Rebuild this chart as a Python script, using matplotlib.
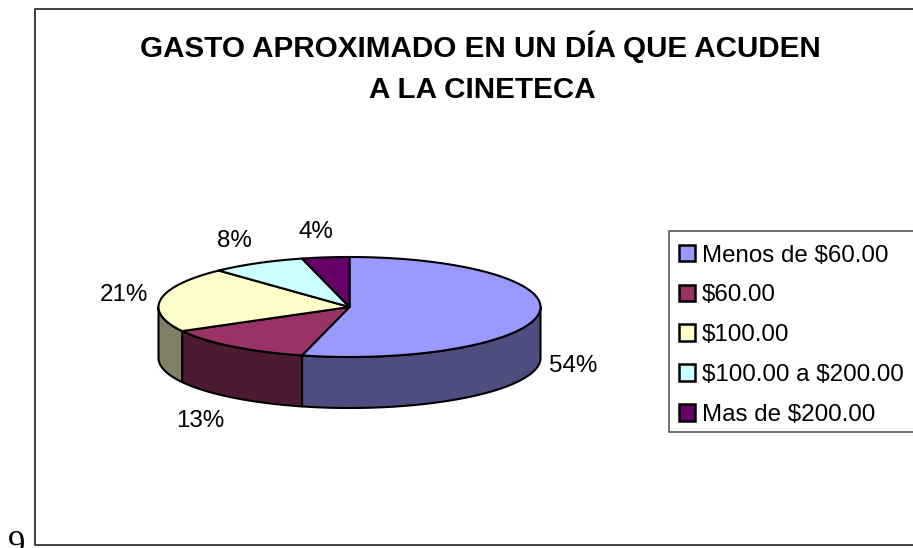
import numpy as np
import matplotlib
matplotlib.use("Agg")
import matplotlib.pyplot as plt
from matplotlib.colors import to_rgb
from matplotlib.patches import Patch

categories = ["Menos de \\$60.00", "\\$60.00", "\\$100.00", "\\$100.00 a \\$200.00", "Mas de \\$200.00"]
values = [54, 13, 21, 8, 4]
colors = ["#9999FF", "#993366", "#FFFFCC", "#CCFFFF", "#660066"]
title_lines = ["GASTO APROXIMADO EN UN DÍA QUE ACUDEN", "A LA CINETECA"]

# layout, in pixels of the 913x548 picture
W, H = 913, 548
CX, CY, RX, RY, DEPTH = 349.5, 307, 191, 50, 51
LABEL_POS = [(573, 366), (200, 421), (124, 295), (234, 241), (316, 232)]

plt.rcParams["font.family"] = ["Liberation Sans", "DejaVu Sans"]


def arc_points(start, end):
    """Points on the pie rim, angles in degrees clockwise from the top."""
    t = np.radians(np.linspace(start, end, max(int(abs(end - start)) * 2, 2)))
    return CX + RX * np.sin(t), CY - RY * np.cos(t)


fig = plt.figure(figsize=(W / 100, H / 100), dpi=100)
ax = fig.add_axes([0, 0, 1, 1])
ax.set_xlim(0, W)
ax.set_ylim(H, 0)
ax.axis("off")

# chart frame, open on the right
ax.plot([W, 35, 35, W], [9, 9, 545, 545], color="#333333", lw=1.3)
# stray page number, cut by the bottom edge in the original too
ax.text(8, 555, "9", family="Liberation Serif", fontsize=25, color="black", clip_on=False)

edges = np.cumsum([0] + values) / sum(values) * 360

# side wall, only the front half of the rim shows
for i, color in enumerate(colors):
    start, end = max(edges[i], 90), min(edges[i + 1], 270)
    if start >= end:
        continue
    x, y = arc_points(start, end)
    side = np.array(to_rgb(color)) * 0.5
    ax.fill(np.r_[x, x[::-1]], np.r_[y, y[::-1] + DEPTH], facecolor=side,
            edgecolor="black", lw=1.5, joinstyle="round")

# top face
for i, color in enumerate(colors):
    x, y = arc_points(edges[i], edges[i + 1])
    ax.fill(np.r_[CX, x], np.r_[CY, y], facecolor=color, edgecolor="black",
            lw=1.5, joinstyle="round")

for v, (lx, ly) in zip(values, LABEL_POS):
    ax.text(lx, ly, f"{v}%", fontsize=17.4, ha="center", va="center", color="black")

ax.text(480, 57, title_lines[0], fontsize=21.3, fontweight="bold", ha="center",
        va="baseline", color="black")
ax.text(482, 98, title_lines[1], fontsize=21.3, fontweight="bold", ha="center",
        va="baseline", color="black")

# legend box runs off the right side of the picture
ax.plot([W, 669, 669, W], [231, 231, 432, 432], color="#555555", lw=1.2)
handles = [Patch(facecolor=c, edgecolor="black", lw=1.8) for c in colors]
leg = ax.legend(handles, categories, loc="upper left", bbox_to_anchor=(678.5, 244.5),
                bbox_transform=ax.transData, fontsize=17.4, frameon=False,
                borderaxespad=0, borderpad=0,
                handlelength=0.68, handleheight=0.68, handletextpad=0.3, labelspacing=0.74)

fig.savefig("out.png", dpi=100)
